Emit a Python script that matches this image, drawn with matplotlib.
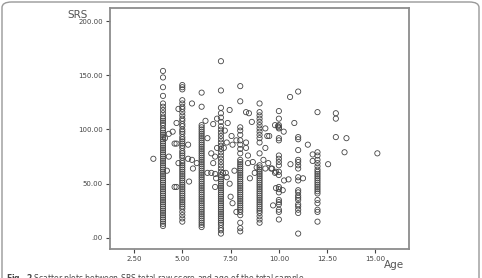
import matplotlib.pyplot as plt
import numpy as np
from matplotlib.patches import FancyBboxPatch

# SRS total raw score, one list per whole-year age column
srs_age4 = [154, 148, 139, 131, 124, 121, 118, 115, 112, 110, 108, 106, 104, 101, 99, 97, 95,
            93, 91, 89, 87, 85, 83, 81, 79, 77, 75, 73, 71, 69, 67, 65, 63, 61, 59, 57, 55,
            53, 51, 49, 47, 45, 43, 41, 39, 37, 35, 33, 31, 29, 27, 25, 23, 21, 19, 17, 15, 13, 11]
srs_age5 = [141, 139, 137, 127, 124, 121, 119, 116, 113, 110, 108, 105, 103, 100, 98, 96, 93,
            91, 89, 87, 85, 83, 80, 78, 76, 74, 71, 69, 67, 65, 63, 61, 59, 57, 55, 53, 51,
            49, 47, 45, 43, 41, 39, 37, 35, 33, 31, 29, 27, 24, 21, 18, 15]
srs_age6 = [134, 121, 104, 102, 100, 98, 96, 94, 92, 90, 88, 86, 84, 82, 80, 78, 76, 74, 72,
            70, 68, 66, 64, 62, 60, 58, 56, 54, 52, 50, 48, 46, 44, 42, 40, 38, 36, 34, 32,
            30, 28, 26, 24, 22, 20, 18, 16, 14, 12, 10]
srs_age7 = [163, 136, 120, 115, 111, 107, 103, 100, 97, 94, 91, 88, 85, 82, 79, 76, 73, 70,
            67, 64, 61, 58, 56, 54, 52, 50, 48, 46, 44, 42, 40, 38, 36, 34, 32, 30, 28, 26,
            24, 22, 20, 18, 16, 14, 12, 9, 7, 4]
srs_age8 = [140, 126, 102, 99, 95, 90, 86, 82, 78, 72, 70, 68, 66, 64, 62, 60, 58, 56, 54, 52,
            50, 48, 46, 44, 42, 40, 38, 36, 34, 32, 30, 28, 26, 24, 21, 14, 9, 6]
srs_age9 = [124, 116, 113, 110, 107, 104, 101, 98, 95, 92, 88, 78, 67, 65, 63, 61, 59, 57, 55,
            53, 51, 49, 47, 45, 43, 41, 39, 37, 35, 33, 31, 29, 27, 25, 23, 20, 17, 14]
srs_age10 = [117, 110, 104, 102, 101, 92, 90, 76, 73, 70, 67, 61, 58, 47, 45, 42, 35, 33, 31,
             26, 24, 17]
srs_age11 = [135, 93, 91, 81, 72, 70, 67, 64, 56, 53, 44, 42, 39, 37, 35, 31, 29, 26, 23, 4]
srs_age12 = [116, 79, 76, 72, 69, 66, 63, 61, 59, 57, 55, 53, 51, 49, 47, 45, 43, 41, 35, 32,
             26, 24, 15]

# points that sit between the whole-year columns
other_age = [3.5, 4.7, 4.5, 4.3, 4.1, 4.7, 5.3, 5.5, 6.2, 6.5, 6.6, 6.8, 6.8, 7.2, 7.3, 7.45,
             7.55, 7.6, 7.8, 8.3, 8.45, 8.3, 8.6, 9.3, 9.4, 9.5, 9.8, 9.95, 7.35, 7.15, 6.3,
             6.7, 4.3, 4.7, 5.35, 5.3, 5.5, 5.55, 5.75, 6.3, 6.5, 6.7, 6.6, 6.7, 6.75, 7.1,
             7.25, 7.3, 7.45, 7.5, 7.6, 7.8, 7.7, 8.4, 8.65, 8.5, 8.75, 8.85, 9.3, 9.45, 9.65,
             9.85, 9.7, 4.8, 10.58, 10.25, 10.8, 12.95, 12.95, 12.95, 13.5, 13.4, 15.1, 12.55,
             11.25, 11.5, 11.75, 11.75, 10.27, 10.5, 9.85, 10.2, 10.6, 9.2, 9.6, 9.8, 9.3,
             8.3, 8.4, 4.2, 4.6, 4.8, 4.6]
other_srs = [73, 106, 98, 96, 92, 87, 86, 124, 108, 78, 105, 110, 83, 99, 88, 118, 94, 86, 90,
             116, 115, 88, 107, 101, 94, 94, 104, 103, 106, 83, 92, 75, 75, 47, 52, 73, 72,
             64, 69, 60, 60, 59, 69, 47, 55, 60, 60, 56, 50, 38, 32, 24, 62, 69, 70, 55, 60,
             65, 64, 69, 64, 61, 30, 119, 130, 98, 106, 115, 110, 93, 92, 79, 78, 68, 55, 86,
             77, 71, 53, 54, 46, 44, 68, 72, 64, 60, 83, 83, 76, 62, 87, 69, 47]

columns = [(4, srs_age4), (5, srs_age5), (6, srs_age6), (7, srs_age7), (8, srs_age8),
           (9, srs_age9), (10, srs_age10), (11, srs_age11), (12, srs_age12)]

ages = np.concatenate([np.full(len(v), a, dtype=float) for a, v in columns] + [np.array(other_age)])
srs = np.concatenate([np.array(v, dtype=float) for a, v in columns] + [np.array(other_srs, dtype=float)])

x_ticks = [2.5, 5.0, 7.5, 10.0, 12.5, 15.0]
x_labels = ['2.50', '5.00', '7.50', '10.00', '12.50', '15.00']
y_ticks = [0, 50, 100, 150, 200]
y_labels = ['.00', '50.00', '100.00', '150.00', '200.00']

fig = plt.figure(figsize=(4.82, 2.78), dpi=100)
ax = fig.add_axes([0.228, 0.104, 0.621, 0.867])

ax.scatter(ages, srs, s=14, facecolors='none', edgecolors='#444444', linewidths=0.6)

ax.set_xlim(1.25, 16.75)
ax.set_ylim(-10.3, 212)
ax.set_xticks(x_ticks)
ax.set_xticklabels(x_labels)
ax.set_yticks(y_ticks)
ax.set_yticklabels(y_labels)
ax.tick_params(labelsize=5, colors='#444444', length=3, width=0.8, direction='out', pad=2)
for sp in ax.spines.values():
    sp.set_color('#8c8c8c')
    sp.set_linewidth(1.3)

fig.text(78 / 482, 1 - 14.5 / 278, 'SRS', fontsize=7.5, color='#555555', ha='center', va='center')
fig.text(394 / 482, 1 - 265 / 278, 'Age', fontsize=7.5, color='#555555', ha='center', va='center')

# caption, cut off by the bottom of the image
fig.text(6 / 482, 1 - 272 / 278, r'$\mathbf{Fig.\ 2}$ Scatter plots between SRS total raw score and age of the total sample',
         fontsize=5.5, color='#444444', ha='left', va='top')

# rounded frame round the whole figure
frame = FancyBboxPatch((2 / 482, -0.05), 477 / 482, 1 - 2 / 278 + 0.05,
                       boxstyle='round,pad=0,rounding_size=0.02', transform=fig.transFigure,
                       facecolor='none', edgecolor='#999999', linewidth=1.0)
fig.patches.append(frame)

fig.savefig('out.png', dpi=100)
